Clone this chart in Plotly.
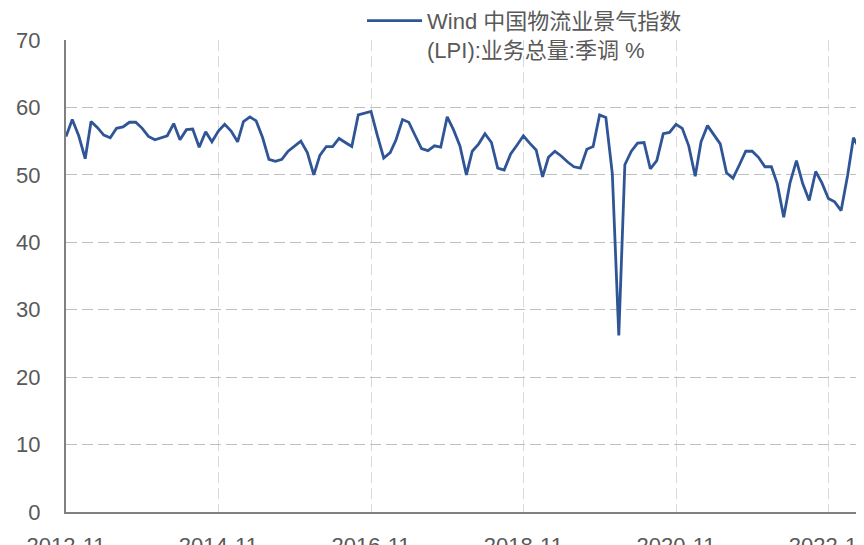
import pandas as pd
import plotly.graph_objects as go

# Monthly categories 2012-11 .. 2023-04
months = pd.date_range("2012-11-01", "2023-04-01", freq="MS")

series_name = "Wind 中国物流业景气指数<br>(LPI):业务总量:季调 %"
lpi_values = [
    55.7, 58.2, 55.8, 52.4, 57.9, 57.0, 55.9, 55.5, 56.9, 57.1,
    57.8, 57.8, 56.9, 55.7, 55.2, 55.5, 55.8, 57.6, 55.2, 56.7,
    56.8, 54.1, 56.4, 54.9, 56.5, 57.5, 56.5, 54.9, 57.9, 58.6,
    58.0, 55.5, 52.3, 52.0, 52.3, 53.5, 54.2, 55.0, 53.3, 50.0,
    52.9, 54.2, 54.2, 55.4, 54.8, 54.2, 58.9, 59.2, 59.4, 55.9,
    52.5, 53.3, 55.2, 58.2, 57.8, 55.8, 53.9, 53.6, 54.3, 54.1,
    58.6, 56.7, 54.3, 50.0, 53.5, 54.6, 56.1, 54.8, 51.0, 50.7,
    53.1, 54.4, 55.8, 54.7, 53.7, 49.7, 52.6, 53.5, 52.8, 51.9,
    51.2, 51.0, 53.8, 54.2, 58.9, 58.5, 50.2, 26.2, 51.5, 53.5,
    54.7, 54.8, 50.9, 52.1, 56.1, 56.3, 57.5, 56.9, 54.3, 49.8,
    54.9, 57.3, 55.9, 54.6, 50.3, 49.5, 51.5, 53.5, 53.5, 52.6,
    51.2, 51.2, 48.7, 43.7, 48.8, 52.1, 48.7, 46.2, 50.5, 48.8,
    46.5, 46.0, 44.7, 49.9, 55.5, 53.8,
]

y_ticks = [0, 10, 20, 30, 40, 50, 60, 70]

LINE_COLOR = "#2F5597"
TEXT_COLOR = "#595959"
FONT = "Liberation Sans, Noto Sans CJK SC, sans-serif"

fig = go.Figure()
fig.add_trace(go.Scatter(
    x=months, y=lpi_values, mode="lines", name=series_name,
    line=dict(color=LINE_COLOR, width=2.8),
    showlegend=True,
))

# the page adds an 8px body margin, so the figure is sized/offset to compensate
fig.update_layout(
    width=856, height=537,
    margin=dict(l=58, r=2, t=32, b=33, autoexpand=False),
    paper_bgcolor="white", plot_bgcolor="white",
    font=dict(family=FONT, size=22, color=TEXT_COLOR),
    legend=dict(
        xref="container", yref="paper",
        x=0.4136, y=1.085, xanchor="left", yanchor="top",
        bgcolor="rgba(0,0,0,0)", valign="top",
        font=dict(size=22, color=TEXT_COLOR),
        itemwidth=55,
    ),
    xaxis=dict(
        type="date",
        range=["2012-11-01", "2023-04-11"],
        tick0="2012-11-01", dtick="M24", tickformat="%Y-%m",
        showline=True, linecolor="#808080", linewidth=2,
        showgrid=True, gridcolor="#D9D9D9", gridwidth=1.3, griddash="11px,5px",
        ticks="", zeroline=False, automargin=False,
        tickfont=dict(size=22, color=TEXT_COLOR),
        ticklabelstandoff=13, ticklabeloverflow="allow",
    ),
    yaxis=dict(
        range=[0, 70], tickvals=y_ticks,
        showline=True, linecolor="#808080", linewidth=2,
        showgrid=True, gridcolor="#BFBFBF", gridwidth=1.3, griddash="11px,5px",
        ticks="", zeroline=False, automargin=False,
        tickfont=dict(size=22, color=TEXT_COLOR),
        ticklabelstandoff=19,
    ),
)

fig.write_html("out.html")
